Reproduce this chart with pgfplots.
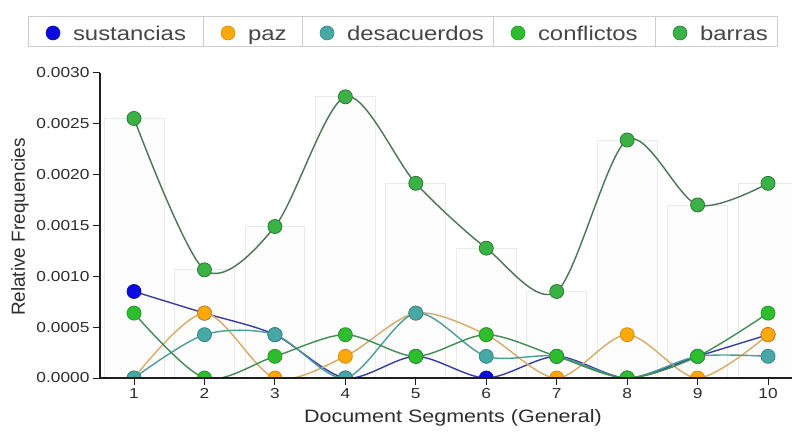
\documentclass[border=0pt]{standalone}
\usepackage{pgfplots}
\pgfplotsset{compat=1.18}
\usepackage{pgfplotstable}
\usepackage{fontspec}
\setmainfont{Liberation Sans}[FakeStretch=1.2]
\newfontfamily\ylabfont{Liberation Sans}

\definecolor{susfill}{RGB}{10,10,225}
\definecolor{susdraw}{RGB}{20,20,150}
\definecolor{susline}{RGB}{55,60,160}
\definecolor{pazfill}{RGB}{255,168,10}
\definecolor{pazdraw}{RGB}{215,140,20}
\definecolor{pazline}{RGB}{216,170,105}
\definecolor{desfill}{RGB}{72,168,166}
\definecolor{desdraw}{RGB}{55,135,135}
\definecolor{desline}{RGB}{78,155,152}
\definecolor{confill}{RGB}{45,190,45}
\definecolor{condraw}{RGB}{40,150,40}
\definecolor{conline}{RGB}{65,140,85}
\definecolor{barfill}{RGB}{58,178,70}
\definecolor{bardraw}{RGB}{45,120,55}
\definecolor{barline}{RGB}{75,115,85}
\definecolor{axiscol}{RGB}{30,30,30}
\definecolor{labcol}{RGB}{45,45,45}
\definecolor{legcol}{RGB}{205,205,205}
\definecolor{legtext}{RGB}{70,70,70}
\definecolor{bgbarfill}{RGB}{252,253,252}
\definecolor{bgbardraw}{RGB}{232,236,232}

\pgfplotstableread{
x sus paz des con bar
1 0.000851 0 0 0.000638 0.002553
2 0.000638 0.000638 0.000426 0 0.001064
3 0.000426 0 0.000426 0.000213 0.001490
4 0 0.000213 0 0.000426 0.002766
5 0.000213 0.000638 0.000638 0.000213 0.001915
6 0 0.000426 0.000213 0.000426 0.001277
7 0.000213 0 0.000213 0.000213 0.000851
8 0 0.000426 0 0 0.002341
9 0.000213 0 0.000213 0.000213 0.001702
10 0.000426 0.000426 0.000213 0.000638 0.001915
}\data

\begin{document}
\begin{tikzpicture}
\begin{axis}[
  at={(0,0)}, anchor=south west,
  scale only axis, width=692bp, height=305bp,
  xmin=0.517, xmax=10.34, ymin=0, ymax=0.003,
  axis on top,
  axis x line*=bottom, axis y line*=left,
  axis line style={line width=1.3bp, color=axiscol, -},
  xtick={1,2,3,4,5,6,7,8,9,10},
  ytick={0,0.0005,0.001,0.0015,0.002,0.0025,0.003},
  scaled y ticks=false,
  yticklabel style={/pgf/number format/.cd, fixed, fixed zerofill, precision=4, assume math mode=true},
  xticklabel style={/pgf/number format/assume math mode=true},
  tick style={line width=1bp, color=axiscol},
  major tick length=7bp, tick align=outside,
  tick label style={font=\fontsize{14.5}{16}\selectfont, text=labcol},
  xlabel={Document Segments (General)},
  ylabel={Relative Frequencies},
  xlabel style={font=\fontsize{18}{20}\selectfont, text=labcol, at={(axis description cs:0.51,0)}, anchor=base, yshift=-44bp},
  ylabel style={font=\ylabfont\fontsize{19}{21}\selectfont, text=labcol, at={(axis description cs:-0.1156,0.495)}, anchor=center},
  clip marker paths=true,
  legend columns=5,
  legend style={at={(axis description cs:-0.1040,1.1869)}, anchor=north west,
    draw=legcol, fill=white, inner sep=0pt, outer sep=0pt, column sep=0pt, row sep=0pt,
    line width=0.8bp,
    nodes={inner sep=0pt, outer sep=0pt, text height=25bp, text depth=5bp,
      font=\fontsize{20}{22}\selectfont, text=legtext},
    cells={anchor=base west}},
]
\addplot[ybar, bar width=0.85, draw=bgbardraw, fill=bgbarfill, line width=0.8bp, forget plot] table[x=x, y=bar] {\data};

\addplot[smooth, color=susline, line width=1.4bp, mark=*, mark size=7bp,
  mark options={fill=susfill, draw=susdraw, line width=0.8bp},
  legend image code/.code={\path[draw=none, fill=none] (0bp,-5bp) rectangle (45bp,25bp); \filldraw[fill=susfill, draw=susdraw, line width=0.6bp] (25bp,8bp) circle (7bp);}]
  table[x=x, y=sus] {\data};
\addlegendentry{\makebox[130bp][l]{sustancias}}

\addplot[smooth, color=pazline, line width=1.4bp, mark=*, mark size=7bp,
  mark options={fill=pazfill, draw=pazdraw, line width=0.8bp},
  legend image code/.code={\path[draw=none, fill=none] (0bp,-5bp) rectangle (45bp,25bp); \draw[overlay, legcol, line width=0.8bp] (0bp,-5bp) -- (0bp,25bp); \filldraw[fill=pazfill, draw=pazdraw, line width=0.6bp] (25bp,8bp) circle (7bp);}]
  table[x=x, y=paz] {\data};
\addlegendentry{\makebox[54bp][l]{paz}}

\addplot[smooth, color=desline, line width=1.4bp, mark=*, mark size=7bp,
  mark options={fill=desfill, draw=desdraw, line width=0.8bp},
  legend image code/.code={\path[draw=none, fill=none] (0bp,-5bp) rectangle (45bp,25bp); \draw[overlay, legcol, line width=0.8bp] (0bp,-5bp) -- (0bp,25bp); \filldraw[fill=desfill, draw=desdraw, line width=0.6bp] (25bp,8bp) circle (7bp);}]
  table[x=x, y=des] {\data};
\addlegendentry{\makebox[146bp][l]{desacuerdos}}

\addplot[smooth, color=conline, line width=1.4bp, mark=*, mark size=7bp,
  mark options={fill=confill, draw=condraw, line width=0.8bp},
  legend image code/.code={\path[draw=none, fill=none] (0bp,-5bp) rectangle (45bp,25bp); \draw[overlay, legcol, line width=0.8bp] (0bp,-5bp) -- (0bp,25bp); \filldraw[fill=confill, draw=condraw, line width=0.6bp] (25bp,8bp) circle (7bp);}]
  table[x=x, y=con] {\data};
\addlegendentry{\makebox[117bp][l]{conflictos}}

\addplot[smooth, color=barline, line width=1.4bp, mark=*, mark size=7bp,
  mark options={fill=barfill, draw=bardraw, line width=0.8bp},
  legend image code/.code={\path[draw=none, fill=none] (0bp,-5bp) rectangle (45bp,25bp); \draw[overlay, legcol, line width=0.8bp] (0bp,-5bp) -- (0bp,25bp); \filldraw[fill=barfill, draw=bardraw, line width=0.6bp] (25bp,8bp) circle (7bp);}]
  table[x=x, y=bar] {\data};
\addlegendentry{\makebox[77bp][l]{barras}}
\end{axis}
\pgfresetboundingbox
\useasboundingbox (-100bp,-55bp) rectangle (695bp,378bp);
\end{tikzpicture}
\end{document}
